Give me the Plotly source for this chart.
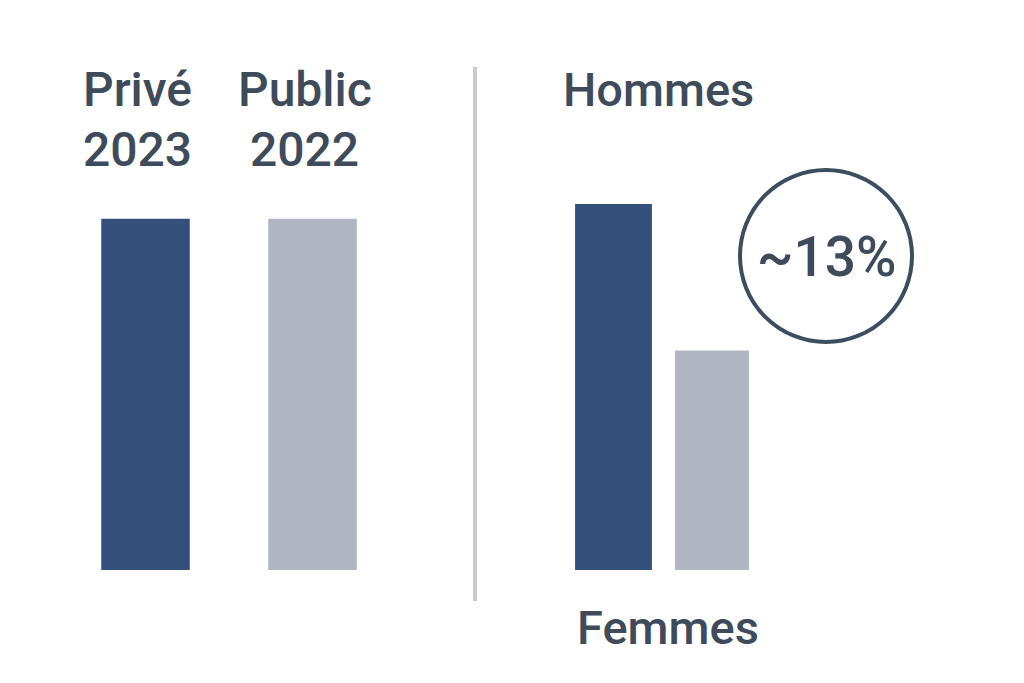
import plotly.graph_objects as go

# Data (bar heights, index with Hommes = 100)
left_categories = ['Privé 2023', 'Public 2022']
left_values = [96, 96]
right_categories = ['Hommes', 'Femmes']
right_values = [100, 60]
gap_label = '~13%'

dark_blue = '#34507a'
light_grey = '#b0b5c1'
text_color = '#3f4b5b'
font_family = 'Roboto, Arial, sans-serif'

W, H = 1024, 683
split = 475 / W  # divider position

fig = go.Figure()

fig.add_trace(go.Bar(
    x=left_categories, y=left_values,
    marker=dict(color=[dark_blue, light_grey], line=dict(width=0)),
    width=0.53, xaxis='x', yaxis='y', hoverinfo='skip',
))
fig.add_trace(go.Bar(
    x=right_categories, y=right_values,
    marker=dict(color=[dark_blue, light_grey], line=dict(width=0)),
    width=[0.78, 0.75], xaxis='x2', yaxis='y', hoverinfo='skip',
))

# Category labels
annotations = []
for i, cat in enumerate(left_categories):
    top, bottom = cat.split(' ')
    annotations.append(dict(x=cat, xref='x', y=(H - 90) / H, yref='paper',
                            text=top, showarrow=False, xshift=-8, size=48))
    annotations.append(dict(x=cat, xref='x', y=(H - 149) / H, yref='paper',
                            text=bottom, showarrow=False, xshift=-8, size=48))

annotations.append(dict(x=658 / W, xref='paper', y=(H - 90) / H, yref='paper',
                        text=right_categories[0], showarrow=False, size=47))
annotations.append(dict(x=668 / W, xref='paper', y=(H - 627) / H, yref='paper',
                        text=right_categories[1], showarrow=False, size=47))
annotations.append(dict(x=826 / W, xref='paper', y=(H - 257) / H, yref='paper',
                        text=gap_label, showarrow=False, size=55))

for a in annotations:
    a['font'] = dict(family=font_family, size=a.pop('size'), color=text_color,
                     weight=500)
    a['xanchor'] = 'center'
    a['yanchor'] = 'middle'

shapes = [
    # vertical divider between the two panels
    dict(type='line', xref='paper', yref='paper',
         x0=split, x1=split, y0=(H - 601) / H, y1=(H - 67) / H,
         line=dict(color='#c8cad0', width=4)),
    # circle around the gap label
    dict(type='circle', xref='paper', yref='paper',
         x0=740 / W, x1=912 / W, y0=(H - 342) / H, y1=(H - 170) / H,
         line=dict(color='#3d4d60', width=4)),
]

# pixel to value scale: 3.66 px per unit, baseline 113 px from bottom
y_scale = 3.66
fig.update_layout(
    width=W, height=H,
    margin=dict(l=0, r=0, t=0, b=0),
    paper_bgcolor='white', plot_bgcolor='white',
    showlegend=False,
    xaxis=dict(domain=[0, split], range=[-145.5 / 167, (475 - 145.5) / 167],
               visible=False, fixedrange=True),
    xaxis2=dict(domain=[split, 1], range=[(475 - 613.5) / 98.5, (1024 - 613.5) / 98.5],
                visible=False, fixedrange=True),
    yaxis=dict(range=[-113 / y_scale, (H - 113) / y_scale], visible=False,
               fixedrange=True),
    annotations=annotations,
    shapes=shapes,
)

# drop the default page margin so the chart sits at the window's top-left
fig.write_html('out.html', config={'displayModeBar': False},
               post_script="document.body.style.margin='0';")
